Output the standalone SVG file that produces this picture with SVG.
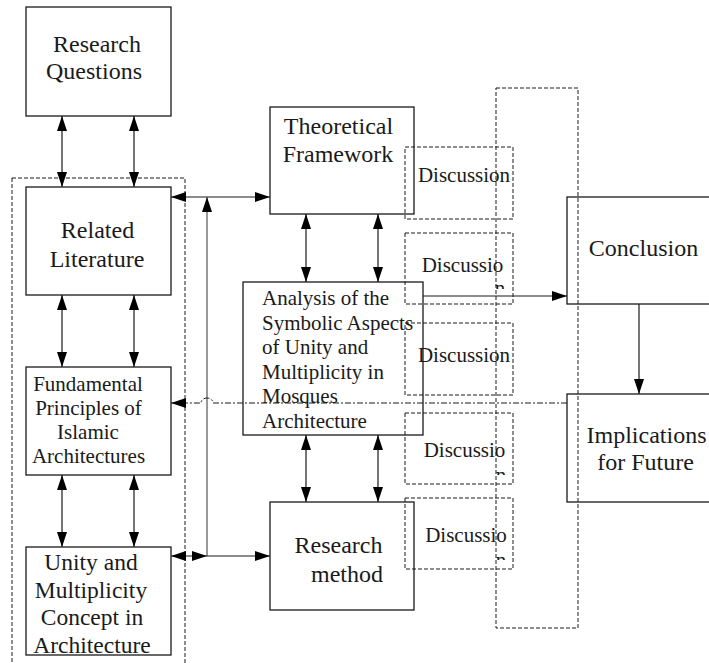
<svg xmlns="http://www.w3.org/2000/svg" width="709" height="663" viewBox="0 0 709 663">
<style>
.box{fill:none;stroke:#1a1a1a;stroke-width:1.3}
.dbox{fill:none;stroke:#1a1a1a;stroke-width:1;stroke-dasharray:4,2}
.t{font-family:"Liberation Serif","Times New Roman",serif;fill:#1a1a1a;text-anchor:middle}
.t24{font-size:24px}
.t21{font-size:21px}
.c{fill:none;stroke:#1a1a1a;stroke-width:1.2}
.g{fill:none;stroke:#555;stroke-width:1.2}
.dd{fill:none;stroke:#1a1a1a;stroke-width:1;stroke-dasharray:6,2,2,2}
</style>
<defs>
<marker id="ah" markerUnits="userSpaceOnUse" markerWidth="16" markerHeight="10" refX="15" refY="5" orient="auto-start-reverse" viewBox="0 0 16 10">
<path d="M0,0 L15,5 L0,10 z" fill="#000" stroke="none"/>
</marker>
<clipPath id="cl2"><rect x="405" y="233" width="108" height="56"/></clipPath>
<clipPath id="cl4"><rect x="405" y="413" width="108" height="62"/></clipPath>
<clipPath id="cl5"><rect x="405" y="498" width="108" height="62"/></clipPath>
</defs>

<g id="group-left"><rect class="dbox" x="12" y="178" width="173" height="495"/></g>
<g id="group-right"><rect class="dbox" x="496" y="88" width="82" height="540"/></g>

<g id="connectors">
<path class="c" d="M62,116 L62,187" marker-start="url(#ah)" marker-end="url(#ah)"/>
<path class="c" d="M134,116 L134,187" marker-start="url(#ah)" marker-end="url(#ah)"/>
<path class="c" d="M62,295 L62,367" marker-start="url(#ah)" marker-end="url(#ah)"/>
<path class="c" d="M134,295 L134,367" marker-start="url(#ah)" marker-end="url(#ah)"/>
<path class="c" d="M62,475 L62,547" marker-start="url(#ah)" marker-end="url(#ah)"/>
<path class="c" d="M134,475 L134,547" marker-start="url(#ah)" marker-end="url(#ah)"/>
<path class="c" d="M306,214 L306,282" marker-start="url(#ah)" marker-end="url(#ah)"/>
<path class="c" d="M378,214 L378,282" marker-start="url(#ah)" marker-end="url(#ah)"/>
<path class="c" d="M306,435 L306,502" marker-start="url(#ah)" marker-end="url(#ah)"/>
<path class="c" d="M378,435 L378,502" marker-start="url(#ah)" marker-end="url(#ah)"/>
<path class="c" d="M171,197 L270,197" marker-start="url(#ah)" marker-end="url(#ah)"/>
<path class="g" d="M207,556 L207,197" marker-end="url(#ah)"/>
<path class="c" d="M171,556 L207,556" marker-start="url(#ah)" marker-end="url(#ah)"/>
<path class="c" d="M207,556 L270,556" marker-end="url(#ah)"/>
<path class="c" d="M423,296 L567,296" marker-end="url(#ah)"/>
<path class="c" d="M639,304 L639,394" marker-end="url(#ah)"/>
<path class="dd" d="M567,403 L213,403 A6,5 0 0 0 201,403 L171,403" marker-end="url(#ah)"/>
</g>

<g id="research-questions">
<rect class="box" x="26" y="7" width="145" height="109"/>
<text class="t t24" x="97" y="52">Research</text>
<text class="t t24" x="94" y="79">Questions</text>
</g>
<g id="related-literature">
<rect class="box" x="26" y="187" width="145" height="108"/>
<text class="t t24" x="97.5" y="238">Related</text>
<text class="t t24" x="97" y="267">Literature</text>
</g>
<g id="fundamental-principles">
<rect class="box" x="26" y="367" width="145" height="108"/>
<text class="t t21" x="88" y="391">Fundamental</text>
<text class="t t21" x="88.5" y="415">Principles of</text>
<text class="t t21" x="88" y="439">Islamic</text>
<text class="t t21" x="88.5" y="463">Architectures</text>
</g>
<g id="unity-multiplicity">
<rect class="box" x="26" y="547" width="145" height="108"/>
<text class="t" style="font-size:23.5px" x="91" y="570">Unity and</text>
<text class="t" style="font-size:23.5px" x="91" y="598">Multiplicity</text>
<text class="t" style="font-size:23.5px" x="92" y="625">Concept in</text>
<text class="t" style="font-size:23.5px" x="92" y="653">Architecture</text>
</g>
<g id="theoretical-framework">
<rect class="box" x="270" y="107" width="144" height="107"/>
<text class="t t24" x="338.5" y="134">Theoretical</text>
<text class="t t24" x="338" y="162">Framework</text>
</g>
<g id="analysis">
<rect class="box" x="243" y="282" width="180" height="153"/>
<text class="t t21" style="text-anchor:start" x="262" y="305">Analysis of the</text>
<text class="t t21" style="text-anchor:start" x="262" y="330">Symbolic Aspects</text>
<text class="t t21" style="text-anchor:start" x="262" y="354">of Unity and</text>
<text class="t t21" style="text-anchor:start" x="262" y="379">Multiplicity in</text>
<text class="t t21" style="text-anchor:start" x="262" y="403">Mosques</text>
<text class="t t21" style="text-anchor:start" x="262" y="428">Architecture</text>
</g>
<g id="research-method">
<rect class="box" x="270" y="502" width="144" height="108"/>
<text class="t t24" x="338.5" y="553">Research</text>
<text class="t t24" x="347" y="582">method</text>
</g>
<g id="discussion-1">
<rect class="dbox" x="405" y="147" width="108" height="72"/>
<text class="t t21" x="464" y="182">Discussion</text>
</g>
<g id="discussion-2">
<rect class="dbox" x="405" y="233" width="108" height="71"/>
<text class="t t21" x="462.5" y="272">Discussio</text>
<text class="t t21" x="500" y="294.5" clip-path="url(#cl2)">n</text>
</g>
<g id="discussion-3">
<rect class="dbox" x="405" y="323" width="108" height="72"/>
<text class="t t21" x="464" y="362">Discussion</text>
</g>
<g id="discussion-4">
<rect class="dbox" x="405" y="413" width="108" height="71"/>
<text class="t t21" x="464.5" y="457">Discussio</text>
<text class="t t21" x="501" y="481.5" clip-path="url(#cl4)">n</text>
</g>
<g id="discussion-5">
<rect class="dbox" x="405" y="498" width="108" height="71"/>
<text class="t t21" x="466" y="542">Discussio</text>
<text class="t t21" x="501" y="566.5" clip-path="url(#cl5)">n</text>
</g>
<g id="conclusion">
<rect class="box" x="567" y="197" width="150" height="107"/>
<text class="t t24" x="643.5" y="256">Conclusion</text>
</g>
<g id="implications">
<rect class="box" x="567" y="394" width="150" height="108"/>
<text class="t t24" x="646.5" y="443">Implications</text>
<text class="t t24" x="645.5" y="470">for Future</text>
</g>
</svg>
